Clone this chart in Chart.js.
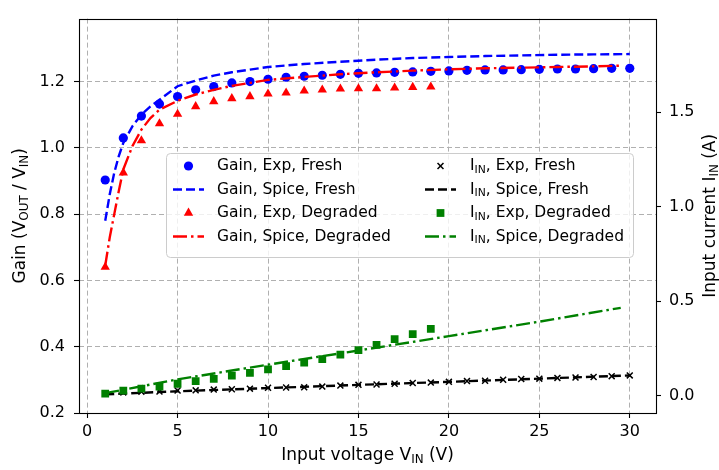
<!DOCTYPE html>
<html>
<head>
<meta charset="utf-8">
<script src="https://cdn.jsdelivr.net/npm/chart.js@4.4.1/dist/chart.umd.min.js"></script>
<style>
  html, body { margin: 0; padding: 0; background: #fff; }
  canvas { display: block; }
</style>
</head>
<body>
<canvas id="chart" width="719" height="470"></canvas>
<script>
// ***** data

const vinExp = [1, 2, 3, 4, 5, 6, 7, 8, 9, 10, 11, 12, 13, 14, 15, 16, 17, 18, 19, 20, 21, 22, 23, 24, 25, 26, 27, 28, 29, 30];
const vinExpDeg = [1, 2, 3, 4, 5, 6, 7, 8, 9, 10, 11, 12, 13, 14, 15, 16, 17, 18, 19];
const vinSpice = [1, 1.25, 1.5, 1.75, 2, 2.5, 3, 3.5, 4, 5, 6, 7, 8, 9, 10, 12, 14, 16, 18, 20, 22, 24, 26, 28, 30];
const vinSpiceDeg = [1, 1.25, 1.5, 1.75, 2, 2.5, 3, 3.5, 4, 5, 6, 7, 8, 9, 10, 12, 14, 16, 18, 20, 22, 24, 26, 28, 29.5];
const vinSpiceI = [1, 5, 10, 15, 20, 25, 30];
const vinSpiceIDeg = [1, 5, 10, 15, 20, 25, 29.5];

const gainExpFresh = [0.903, 1.030, 1.096, 1.132, 1.155, 1.175, 1.185, 1.196, 1.200, 1.207, 1.213, 1.216, 1.219, 1.222, 1.225,
  1.226, 1.228, 1.229, 1.231, 1.232, 1.234, 1.235, 1.235, 1.236, 1.237, 1.238, 1.238, 1.239, 1.240, 1.240];
const gainSpiceFresh = [0.78, 0.86, 0.925, 0.975, 1.015, 1.065, 1.100, 1.125, 1.145, 1.186, 1.203, 1.218, 1.228, 1.236, 1.244,
  1.253, 1.260, 1.266, 1.271, 1.274, 1.277, 1.279, 1.281, 1.282, 1.283];
const gainExpDeg = [0.640, 0.925, 1.022, 1.073, 1.102, 1.125, 1.140, 1.149, 1.155, 1.163, 1.166, 1.172, 1.175, 1.178, 1.179,
  1.179, 1.181, 1.183, 1.184];
const gainSpiceDeg = [0.645, 0.73, 0.80, 0.87, 0.935, 1.005, 1.055, 1.090, 1.115, 1.142, 1.161, 1.175, 1.187, 1.196, 1.205,
  1.214, 1.222, 1.228, 1.233, 1.237, 1.240, 1.242, 1.244, 1.246, 1.248];

const iinExpFresh = [0.010, 0.016, 0.020, 0.021, 0.026, 0.027, 0.031, 0.033, 0.036, 0.041, 0.042, 0.043, 0.047, 0.052, 0.056,
  0.058, 0.062, 0.066, 0.068, 0.072, 0.076, 0.078, 0.083, 0.087, 0.089, 0.093, 0.095, 0.098, 0.102, 0.106];
const iinSpiceFresh = [0.006, 0.022, 0.039, 0.056, 0.072, 0.089, 0.106];
const iinExpDeg = [0.010, 0.026, 0.036, 0.047, 0.062, 0.076, 0.088, 0.105, 0.119, 0.138, 0.155, 0.174, 0.192, 0.216, 0.240,
  0.268, 0.298, 0.325, 0.352];
const iinSpiceDeg = [0.012, 0.085, 0.163, 0.238, 0.314, 0.391, 0.464];

const xTicks = [0, 5, 10, 15, 20, 25, 30];
const gainTicks = [0.2, 0.4, 0.6, 0.8, 1.0, 1.2];
const iinTicks = [0.0, 0.5, 1.0, 1.5];

const xTitle = 'Input voltage V_{IN} (V)';
const gainTitle = 'Gain (V_{OUT} / V_{IN})';
const iinTitle = 'Input current I_{IN} (A)';

// *****

const FONT = "'DejaVu Sans', sans-serif";
const TITLE_SIZE = 17;
const LEGEND_SIZE = 15.5;

Chart.defaults.font.family = FONT;
Chart.defaults.font.size = 16;
Chart.defaults.color = '#000';

const pts = (xs, ys) => xs.map((x, i) => ({ x, y: ys[i] }));
const DASH = [9, 4];
const DASHDOT = [14, 4, 2.5, 4];

function markers(label, xs, ys, axis, style, color, radius) {
  return {
    label, data: pts(xs, ys), yAxisID: axis, showLine: false,
    pointStyle: style, pointRadius: radius, pointHoverRadius: radius,
    pointBackgroundColor: color, pointBorderColor: color,
    pointBorderWidth: style === 'crossRot' ? 1.5 : 0,
    backgroundColor: color, borderColor: color,
  };
}

function curve(label, xs, ys, axis, color, dash) {
  return {
    label, data: pts(xs, ys), yAxisID: axis, showLine: true,
    borderColor: color, backgroundColor: color, borderWidth: 2.4,
    borderDash: dash, pointRadius: 0, pointHoverRadius: 0, tension: 0, fill: false,
  };
}

const datasets = [
  markers('Gain, Exp, Fresh', vinExp, gainExpFresh, 'y', 'circle', '#0000ff', 4.6),
  curve('Gain, Spice, Fresh', vinSpice, gainSpiceFresh, 'y', '#0000ff', DASH),
  markers('Gain, Exp, Degraded', vinExpDeg, gainExpDeg, 'y', 'triangle', '#ff0000', 5.4),
  curve('Gain, Spice, Degraded', vinSpiceDeg, gainSpiceDeg, 'y', '#ff0000', DASHDOT),
  markers('I_{IN}, Exp, Fresh', vinExp, iinExpFresh, 'y1', 'crossRot', '#000000', 4.2),
  curve('I_{IN}, Spice, Fresh', vinSpiceI, iinSpiceFresh, 'y1', '#000000', DASH),
  markers('I_{IN}, Exp, Degraded', vinExpDeg, iinExpDeg, 'y1', 'rect', '#008000', 5.5),
  curve('I_{IN}, Spice, Degraded', vinSpiceIDeg, iinSpiceDeg, 'y1', '#008000', DASHDOT),
];
// later series on top, like the original plot
datasets.forEach((d, i) => { d.order = -i; });

// ***** text with subscripts written as _{..}

function splitSub(str) {
  const parts = [];
  str.split(/_\{([^}]*)\}/).forEach((t, i) => { if (t) parts.push([t, i % 2 === 1]); });
  return parts;
}

function richText(ctx, str, x, y, align, size) {
  const main = size + 'px ' + FONT;
  const sub = (size * 0.7).toFixed(1) + 'px ' + FONT;
  const parts = splitSub(str);
  const widths = parts.map(([t, s]) => { ctx.font = s ? sub : main; return ctx.measureText(t).width; });
  const total = widths.reduce((a, b) => a + b, 0);
  let cx = align === 'center' ? x - total / 2 : x;
  ctx.textAlign = 'left';
  ctx.textBaseline = 'middle';
  parts.forEach(([t, s], i) => {
    ctx.font = s ? sub : main;
    ctx.fillText(t, cx, s ? y + size * 0.25 : y);
    cx += widths[i];
  });
}

function drawMarker(ctx, ds, x, y) {
  const r = ds.pointRadius;
  ctx.save();
  ctx.fillStyle = ds.pointBackgroundColor;
  ctx.strokeStyle = ds.pointBorderColor;
  ctx.beginPath();
  if (ds.pointStyle === 'circle') {
    ctx.arc(x, y, r, 0, Math.PI * 2);
    ctx.fill();
  } else if (ds.pointStyle === 'triangle') {
    for (let k = 0; k < 3; k++) {
      const a = k * 2 * Math.PI / 3;
      ctx.lineTo(x + Math.sin(a) * r, y - Math.cos(a) * r);
    }
    ctx.closePath();
    ctx.fill();
  } else if (ds.pointStyle === 'rect') {
    const s = r * Math.SQRT1_2;
    ctx.fillRect(x - s, y - s, 2 * s, 2 * s);
  } else {
    const s = r * Math.SQRT1_2;
    ctx.lineWidth = ds.pointBorderWidth;
    ctx.moveTo(x - s, y - s); ctx.lineTo(x + s, y + s);
    ctx.moveTo(x - s, y + s); ctx.lineTo(x + s, y - s);
    ctx.stroke();
  }
  ctx.restore();
}

// ***** frame, axis titles and legend

const decorations = {
  id: 'decorations',
  afterDraw(chart) {
    const ctx = chart.ctx;
    const a = chart.chartArea;

    ctx.save();
    ctx.strokeStyle = '#000';
    ctx.lineWidth = 1.1;
    ctx.strokeRect(Math.round(a.left) + 0.5, Math.round(a.top) + 0.5, Math.round(a.right - a.left), Math.round(a.bottom - a.top));

    ctx.fillStyle = '#000';
    richText(ctx, xTitle, (a.left + a.right) / 2, 456, 'center', TITLE_SIZE);

    ctx.save();
    ctx.translate(21, (a.top + a.bottom) / 2);
    ctx.rotate(-Math.PI / 2);
    richText(ctx, gainTitle, 0, 0, 'center', TITLE_SIZE);
    ctx.restore();

    ctx.save();
    ctx.translate(711, (a.top + a.bottom) / 2);
    ctx.rotate(-Math.PI / 2);
    richText(ctx, iinTitle, 0, 0, 'center', TITLE_SIZE);
    ctx.restore();

    // legend box
    const bx = 166, by = 153, bw = 467, bh = 104;
    ctx.beginPath();
    ctx.roundRect(bx + 0.5, by + 0.5, bw, bh, 4);
    ctx.fillStyle = 'rgba(255,255,255,0.8)';
    ctx.fill();
    ctx.strokeStyle = '#cccccc';
    ctx.lineWidth = 1;
    ctx.stroke();

    const cols = [{ hx: 173, tx: 217 }, { hx: 425, tx: 470 }];
    const rows = [166, 189.5, 213, 236.5];
    chart.data.datasets.forEach((ds, i) => {
      const col = cols[Math.floor(i / 4)];
      const y = rows[i % 4];
      if (ds.showLine) {
        ctx.save();
        ctx.strokeStyle = ds.borderColor;
        ctx.lineWidth = ds.borderWidth;
        ctx.setLineDash(ds.borderDash);
        ctx.beginPath();
        ctx.moveTo(col.hx, y);
        ctx.lineTo(col.hx + 31, y);
        ctx.stroke();
        ctx.restore();
      } else {
        drawMarker(ctx, ds, col.hx + 15.5, y);
      }
      ctx.fillStyle = '#000';
      richText(ctx, ds.label, col.tx, y, 'left', LEGEND_SIZE);
    });
    ctx.restore();
  },
};

// *****

const tickSet = list => scale => { scale.ticks = list.map(v => ({ value: v })); };
const grid = { color: '#b0b0b0', lineWidth: 1, tickLength: 5, tickColor: '#000', tickWidth: 1.1 };
const border = { display: false, dash: [5, 3] };

const ctx = document.getElementById('chart').getContext('2d');

new Chart(ctx, {
  type: 'line',
  data: { datasets },
  options: {
    responsive: false,
    devicePixelRatio: 1,
    animation: false,
    layout: { padding: { top: 7, left: 0, right: 0, bottom: 0 } },
    plugins: {
      legend: { display: false },
      tooltip: { enabled: false },
    },
    scales: {
      x: {
        type: 'linear',
        min: -0.45,
        max: 31.45,
        afterBuildTicks: tickSet(xTicks),
        afterFit: s => { s.height = 57; },
        grid,
        border,
        ticks: { padding: 4, maxRotation: 0, callback: v => String(v) },
      },
      y: {
        type: 'linear',
        position: 'left',
        min: 0.2,
        max: 1.39,
        afterBuildTicks: tickSet(gainTicks),
        afterFit: s => { s.width = 79; },
        grid,
        border,
        ticks: { padding: 9, callback: v => v.toFixed(1) },
      },
      y1: {
        type: 'linear',
        position: 'right',
        min: -0.093,
        max: 1.996,
        afterBuildTicks: tickSet(iinTicks),
        afterFit: s => { s.width = 63; },
        grid: { ...grid, drawOnChartArea: false },
        border,
        ticks: { padding: 8, callback: v => v.toFixed(1) },
      },
    },
  },
  plugins: [decorations],
});
</script>
</body>
</html>
